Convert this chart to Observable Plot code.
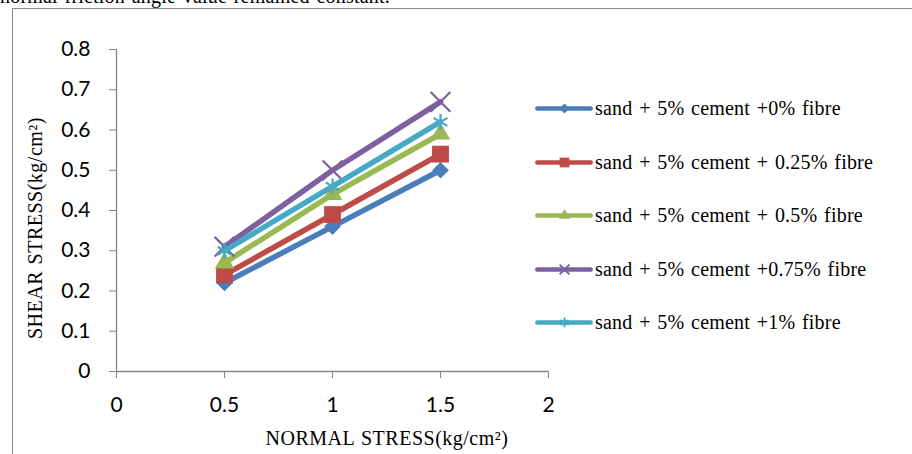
<!DOCTYPE html>
<html>
<head>
<meta charset="utf-8">
<script src="https://cdn.jsdelivr.net/npm/d3@7"></script>
<script src="https://cdn.jsdelivr.net/npm/@observablehq/plot@0.6"></script>
<style>
  html, body { margin: 0; padding: 0; background: #fff; overflow: hidden; }
  #wrap { position: relative; width: 912px; height: 454px; overflow: hidden; }
  #box { position: absolute; left: 12px; top: 8px; width: 920px; height: 470px; border: 1px solid #8a8a8a; box-sizing: border-box; }
  #topline { position: absolute; left: 0; top: -15px; font: 20px "Liberation Serif", serif; letter-spacing: 0.2px; word-spacing: 1.5px; color: #000; white-space: nowrap; }
  #chart { position: absolute; left: 0; top: 0; }
  .lbl { position: absolute; font: 20px "Liberation Serif", serif; letter-spacing: 0.5px; word-spacing: 1px; color: #000; white-space: nowrap; }
  #ylab { left: 35px; top: 228px; transform: translate(-50%, -50%) rotate(-90deg); }
  #xlab { left: 387px; top: 438px; transform: translate(-50%, -50%); }
  #legend { position: absolute; left: 535px; top: 0; }
  .item { position: absolute; left: 0; display: flex; align-items: center; height: 20px; transform: translateY(-50%); }
  .item span { font: 20px "Liberation Serif", serif; letter-spacing: 0.2px; word-spacing: 1.5px; color: #000; white-space: nowrap; margin-left: 2px; }
</style>
</head>
<body>
<div id="wrap">
  <div id="topline">normal friction angle value remained constant.</div>
  <div id="box"></div>
  <div id="chart"></div>
  <div class="lbl" id="ylab">SHEAR STRESS(kg/cm²)</div>
  <div class="lbl" id="xlab">NORMAL STRESS(kg/cm²)</div>
  <div id="legend"></div>
</div>
<script>
const normalStress = [0.5, 1, 1.5];
const seriesNames = [
  "sand + 5% cement +0% fibre",
  "sand + 5% cement + 0.25% fibre",
  "sand + 5% cement + 0.5% fibre",
  "sand + 5% cement +0.75% fibre",
  "sand + 5% cement +1% fibre"
];
const fibre0    = [0.22, 0.36, 0.50];
const fibre025  = [0.24, 0.39, 0.54];
const fibre05   = [0.27, 0.44, 0.59];
const fibre075  = [0.31, 0.50, 0.67];
const fibre1    = [0.30, 0.46, 0.62];
const seriesValues = [fibre0, fibre025, fibre05, fibre075, fibre1];
const colors = ["#4a7ebb", "#be4b48", "#98b954", "#7d60a0", "#46aac5"];
const symbols = ["diamond2", "square", "triangle", "times", "asterisk"];
const markerR = [7.5, 9.5, 7.2, 9, 7.5];
const legendR = [4.5, 5.5, 4.2, 4.5, 4.5];
const xTicks = [0, 0.5, 1, 1.5, 2];
const yTicks = [0, 0.1, 0.2, 0.3, 0.4, 0.5, 0.6, 0.7, 0.8];

const data = [];
seriesNames.forEach((name, i) => {
  normalStress.forEach((x, j) => data.push({series: name, idx: i, x, y: seriesValues[i][j]}));
});

const tickFont = "Lato, 'Open Sans', sans-serif";
const axisColor = "#868686";
const isStroke = s => s === "times" || s === "asterisk";

const marks = [
  Plot.ruleY([0], {stroke: axisColor, strokeWidth: 1.3}),
  Plot.ruleX([0], {stroke: axisColor, strokeWidth: 1.3}),
  Plot.axisY({ticks: yTicks, tickFormat: d => String(+d.toFixed(1)), tickSize: 7, tickPadding: 19, stroke: axisColor, label: null, fontSize: 21, fontFamily: tickFont, fill: "#000"}),
  Plot.axisX({ticks: xTicks, tickFormat: d => String(d), tickSize: 7, tickPadding: 19, stroke: axisColor, label: null, fontSize: 21, fontFamily: tickFont, fill: "#000"})
];
seriesNames.forEach((name, i) => {
  const d = data.filter(r => r.idx === i);
  marks.push(Plot.line(d, {x: "x", y: "y", stroke: colors[i], strokeWidth: 5.5}));
  marks.push(Plot.dot(d, {
    x: "x", y: "y", symbol: () => symbols[i],
    r: markerR[i],
    fill: isStroke(symbols[i]) ? "none" : colors[i],
    stroke: isStroke(symbols[i]) ? colors[i] : "none",
    strokeWidth: isStroke(symbols[i]) ? 2.2 : 0
  }));
});

const chart = Plot.plot({
  width: 912, height: 454,
  marginLeft: 116, marginRight: 364, marginTop: 49, marginBottom: 83,
  x: {domain: [0, 2]},
  y: {domain: [0, 0.8]},
  style: {background: "transparent", overflow: "visible"},
  marks
});
document.getElementById("chart").appendChild(chart);

// legend
const legendYs = [108, 162, 215, 269, 322];
const legend = document.getElementById("legend");
seriesNames.forEach((name, i) => {
  const item = document.createElement("div");
  item.className = "item";
  item.style.top = legendYs[i] + "px";
  const sw = Plot.plot({
    width: 58, height: 20, margin: 0,
    x: {domain: [0, 1], axis: null}, y: {domain: [0, 1], axis: null},
    style: {background: "transparent", overflow: "visible"},
    marks: [
      Plot.ruleY([0.5], {x1: 0.04, x2: 0.96, stroke: colors[i], strokeWidth: 4.5, strokeLinecap: "round"}),
      Plot.dot([0.5], {x: d => d, y: 0.5, symbol: () => symbols[i],
        r: legendR[i],
        fill: isStroke(symbols[i]) ? "none" : colors[i],
        stroke: isStroke(symbols[i]) ? colors[i] : "none",
        strokeWidth: 2})
    ]
  });
  item.appendChild(sw);
  const s = document.createElement("span");
  s.textContent = name;
  item.appendChild(s);
  legend.appendChild(item);
});
</script>
</body>
</html>
